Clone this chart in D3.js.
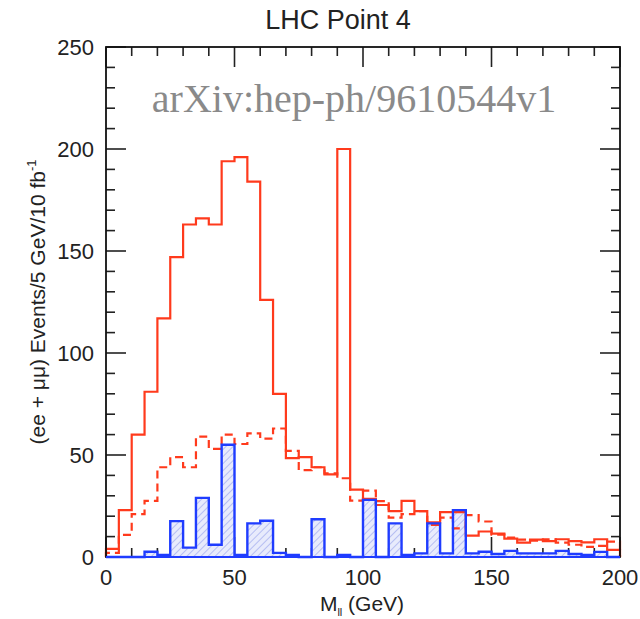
<!DOCTYPE html>
<html>
<head>
<meta charset="utf-8">
<script src="https://cdn.jsdelivr.net/npm/d3@7"></script>
<style>
  body { margin: 0; background: #fff; }
  text { font-family: "Liberation Sans", Arial, sans-serif; fill: #222; }
</style>
</head>
<body>
<div id="chart"></div>
<script>
// Bin lower edges (GeV), 5 GeV wide bins
const binLow = [0, 5, 10, 15, 20, 25, 30, 35, 40, 45, 50, 55, 60, 65, 70, 75, 80, 85, 90, 95,
  100, 105, 110, 115, 120, 125, 130, 135, 140, 145, 150, 155, 160, 165, 170, 175, 180, 185, 190, 195];

// Red solid: signal + background
const redSolid = [4, 23, 60, 81, 117, 147, 163, 166, 163, 194, 196, 184, 126, 80, 48.5, 49, 44, 40.5, 200, 33,
  28.5, 25.5, 22.5, 27.5, 22.5, 17, 22, 22, 10.5, 12.5, 11.5, 9, 7, 8.5, 7.8, 8.7, 7.8, 7.2, 8.7, 3.5];

// Red dashed
const redDashed = [2, 10.8, 21, 27.5, 44, 49, 44, 59, 53, 60, 55.4, 60.6, 58, 63, 52, 42.6, 44, 41, 38.6, 27.6,
  32.5, 27.4, 19.3, 21, 22.5, 15.7, 19.3, 14, 20.5, 17.4, 11, 9.5, 8.5, 8, 8.7, 7, 6, 5, 5.5, 7.5];

// Blue hatched
const blueHist = [0, 0, 0, 2.6, 1, 17.6, 4.6, 29, 6, 55, 1, 16.5, 17.8, 2, 1, 0, 18.5, 0, 1, 0,
  28, 0, 16.5, 1, 1.8, 16.5, 1.8, 23, 1.8, 2.6, 1.5, 3, 1.8, 1.8, 1.8, 3, 1.5, 1, 2.5, 0];

const xTickLabels = [0, 50, 100, 150, 200];
const yTickLabels = [0, 50, 100, 150, 200, 250];

const W = 640, H = 619;
const plot = {left: 106, right: 620, top: 47, bottom: 557};

const svg = d3.select("#chart").append("svg")
    .attr("width", W)
    .attr("height", H);

const x = d3.scaleLinear().domain([0, 200]).range([plot.left, plot.right]);
const y = d3.scaleLinear().domain([0, 250]).range([plot.bottom, plot.top]);

// hatch pattern for blue histogram
const defs = svg.append("defs");
const pat = defs.append("pattern")
    .attr("id", "hatch")
    .attr("patternUnits", "userSpaceOnUse")
    .attr("width", 5)
    .attr("height", 5)
    .attr("patternTransform", "rotate(45)");
pat.append("rect").attr("width", 5).attr("height", 5).attr("fill", "#e8ebfc");
pat.append("line")
    .attr("x1", 0).attr("y1", 0).attr("x2", 0).attr("y2", 5)
    .attr("stroke", "#a9b3f0").attr("stroke-width", 1.6);

// Ticks on all four sides, pointing inward
const xMinor = d3.range(0, 201, 10);
const yMinor = d3.range(0, 251, 10);
const tickG = svg.append("g").attr("stroke", "#222").attr("stroke-width", 1.6);

tickG.selectAll(".xb").data(xMinor).enter().append("line")
    .attr("x1", d => x(d)).attr("x2", d => x(d))
    .attr("y1", plot.bottom).attr("y2", d => plot.bottom - (d % 50 === 0 ? 20 : 9));
tickG.selectAll(".xt").data(xMinor).enter().append("line")
    .attr("x1", d => x(d)).attr("x2", d => x(d))
    .attr("y1", plot.top).attr("y2", d => plot.top + (d % 50 === 0 ? 20 : 9));
tickG.selectAll(".yl").data(yMinor).enter().append("line")
    .attr("y1", d => y(d)).attr("y2", d => y(d))
    .attr("x1", plot.left).attr("x2", d => plot.left + (d % 50 === 0 ? 20 : 9));
tickG.selectAll(".yr").data(yMinor).enter().append("line")
    .attr("y1", d => y(d)).attr("y2", d => y(d))
    .attr("x1", plot.right).attr("x2", d => plot.right - (d % 50 === 0 ? 20 : 9));

// Watermark
svg.append("text")
    .attr("x", 354)
    .attr("y", 112)
    .attr("text-anchor", "middle")
    .style("font-family", "'Liberation Serif', 'Times New Roman', serif")
    .style("font-size", "40px")
    .style("fill", "#8a8a8a")
    .text("arXiv:hep-ph/9610544v1");

// step helpers
function stepPoints(vals) {
    const pts = [[0, 0]];
    vals.forEach((v, i) => pts.push([binLow[i], v]));
    pts.push([200, vals[vals.length - 1]]);
    pts.push([200, 0]);
    return pts;
}

const stepLine = d3.line()
    .x(d => x(d[0]))
    .y(d => y(d[1]))
    .curve(d3.curveStepAfter);

const stepArea = d3.area()
    .x(d => x(d[0]))
    .y0(y(0))
    .y1(d => y(d[1]))
    .curve(d3.curveStepAfter);

const bluePts = stepPoints(blueHist);

// Blue hatched histogram
svg.append("path")
    .datum(bluePts)
    .attr("d", stepArea)
    .attr("fill", "url(#hatch)");

// Red dashed
svg.append("path")
    .datum(stepPoints(redDashed))
    .attr("d", stepLine)
    .attr("fill", "none")
    .attr("stroke", "#ff3a1c")
    .attr("stroke-width", 2.2)
    .attr("stroke-dasharray", "8,5");

// Red solid
svg.append("path")
    .datum(stepPoints(redSolid))
    .attr("d", stepLine)
    .attr("fill", "none")
    .attr("stroke", "#ff3a1c")
    .attr("stroke-width", 2.2);

// Blue outline
svg.append("path")
    .datum(bluePts)
    .attr("d", stepLine)
    .attr("fill", "none")
    .attr("stroke", "#1f3cff")
    .attr("stroke-width", 2.4);

// Frame
svg.append("rect")
    .attr("x", plot.left).attr("y", plot.top)
    .attr("width", plot.right - plot.left).attr("height", plot.bottom - plot.top)
    .attr("fill", "none")
    .attr("stroke", "#111")
    .attr("stroke-width", 1.8);

// blue baseline over frame bottom
svg.append("line")
    .attr("x1", plot.left).attr("x2", plot.right)
    .attr("y1", plot.bottom).attr("y2", plot.bottom)
    .attr("stroke", "#1f3cff").attr("stroke-width", 2.2);

// Tick labels
svg.selectAll(".xlab").data(xTickLabels).enter().append("text")
    .attr("x", d => x(d))
    .attr("y", 585)
    .attr("text-anchor", "middle")
    .style("font-size", "22px")
    .text(d => d);

svg.selectAll(".ylab").data(yTickLabels).enter().append("text")
    .attr("x", 94)
    .attr("y", d => y(d) + 8)
    .attr("text-anchor", "end")
    .style("font-size", "22px")
    .text(d => d);

// Title
svg.append("text")
    .attr("x", 338)
    .attr("y", 29)
    .attr("text-anchor", "middle")
    .style("font-size", "27px")
    .text("LHC Point 4");

// X axis label
const xl = svg.append("text")
    .attr("x", 362)
    .attr("y", 611)
    .attr("text-anchor", "middle")
    .style("font-size", "21px");
xl.append("tspan").text("M");
xl.append("tspan").attr("dy", 5).style("font-size", "11px").text("ll");
xl.append("tspan").attr("dy", -5).text(" (GeV)");

// Y axis label
const yl = svg.append("text")
    .attr("transform", "translate(45,302) rotate(-90)")
    .attr("text-anchor", "middle")
    .style("font-size", "21px");
yl.append("tspan").text("(ee + \u03bc\u03bc) Events/5 GeV/10 fb");
yl.append("tspan").attr("dy", -9).style("font-size", "13px").text("-1");
</script>
</body>
</html>
